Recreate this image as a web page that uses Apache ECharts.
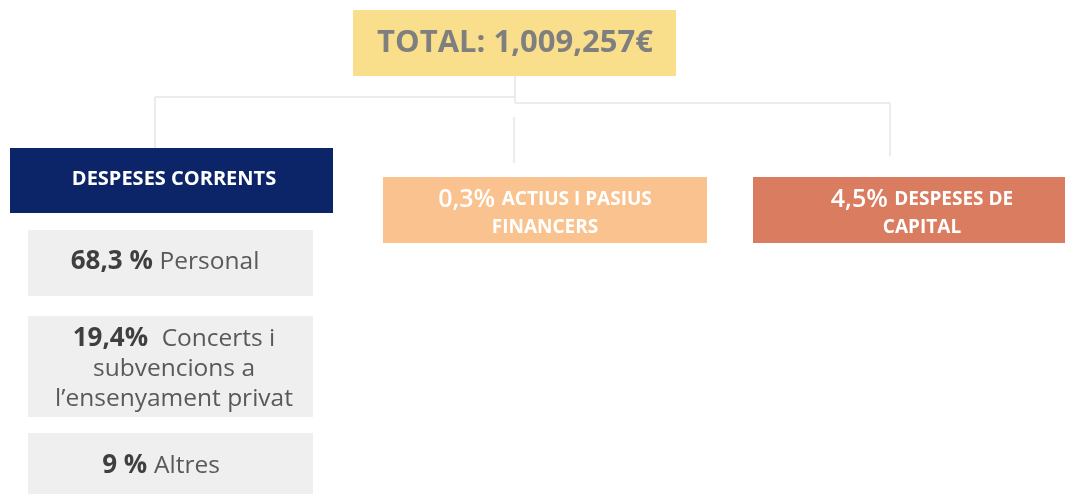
<!DOCTYPE html>
<html><head><meta charset="utf-8">
<script src="https://cdn.jsdelivr.net/npm/echarts@6/dist/echarts.min.js"></script>
<style>html,body{margin:0;padding:0;background:#fff}#c{width:1065px;height:496px}</style>
</head><body><div id="c"></div>
<script>
// ---- content ----
const totalLabel = 'TOTAL: 1,009,257€';
const groupNames = ['DESPESES CORRENTS', 'ACTIUS I PASIUS\nFINANCERS', 'DESPESES DE\nCAPITAL'];
const groupShares = ['', '0,3%', '4,5%'];
const itemShares = ['68,3 %', '19,4%', '9 %'];
const itemNames = ['Personal', 'Concerts i\nsubvencions a\nl\u2019ensenyament privat', 'Altres'];

// ---- layout (pixel space of the hidden axes) ----
const FONT = 'Open Sans';
const totalBox = {x: 353, y: 10, w: 323, h: 66, tx: 515, ty: 43, fill: '#F9DF8C'};
const groupBoxes = [
  {x: 10, y: 148, w: 323, h: 65, tx: 174, ty: 179, fill: '#0C2468'},
  {x: 383, y: 177, w: 324, h: 66, tx: 545, ty: 214, fill: '#F9C28E'},
  {x: 753, y: 177, w: 312, h: 66, tx: 922, ty: 214, fill: '#D97C5F'}
];
const itemBoxes = [
  {x: 28, y: 230, w: 285, h: 66, tx: 165, ty: 262, fill: '#EFEFEF'},
  {x: 28, y: 316, w: 285, h: 101, tx: 174, ty: 369, fill: '#EFEFEF'},
  {x: 28, y: 433, w: 285, h: 61, tx: 161, ty: 466, fill: '#EFEFEF'}
];
const connectors = [
  [[515, 76], [515, 103]],
  [[155, 97], [515, 97]],
  [[155, 97], [155, 148]],
  [[515, 103], [890, 103]],
  [[890, 103], [890, 156]],
  [[514, 117], [514, 163]]
];

function richTextFor(kind, i) {
  if (kind === 'total') return '{t|' + totalLabel + '}';
  if (kind === 'group') {
    const lines = groupNames[i].split('\n');
    const share = groupShares[i];
    return lines.map((l, k) => (k === 0 && share ? '{p|' + share + ' }' : '') + '{h|' + l + '}').join('\n');
  }
  const lines = itemNames[i].split('\n');
  return lines.map((l, k) => (k === 0 ? '{b|' + itemShares[i] + (i === 1 ? '  ' : ' ') + '}' : '') + '{r|' + l + '}').join('\n');
}

const rich = {
  t: {fontFamily: FONT, fontWeight: 'bold', fontSize: 31, fill: '#7F7F7F'},
  p: {fontFamily: FONT, fontWeight: 600, fontSize: 25, fill: '#FFFFFF', lineHeight: 28},
  h: {fontFamily: FONT, fontWeight: 'bold', fontSize: 19, fill: '#FFFFFF', lineHeight: 28},
  b: {fontFamily: FONT, fontWeight: 'bold', fontSize: 26, fill: '#3F3F3F', lineHeight: 30},
  r: {fontFamily: FONT, fontWeight: 'normal', fontSize: 24.5, fill: '#595959', lineHeight: 30}
};
const navyRich = {h: {fontFamily: FONT, fontWeight: 'bold', fontSize: 20, fill: '#FFFFFF'}};

const nodes = [{kind: 'total', i: 0, box: totalBox}]
  .concat(groupBoxes.map((b, i) => ({kind: 'group', i, box: b})))
  .concat(itemBoxes.map((b, i) => ({kind: 'item', i, box: b})));

const chart = echarts.init(document.getElementById('c'), null, {renderer: 'canvas'});
chart.setOption({
  backgroundColor: '#ffffff',
  animation: false,
  grid: {left: 0, right: 0, top: 0, bottom: 0},
  xAxis: {type: 'value', min: 0, max: 1065, show: false},
  yAxis: {type: 'value', min: 0, max: 496, inverse: true, show: false},
  series: [
    {
      type: 'custom',
      coordinateSystem: 'cartesian2d',
      silent: true,
      data: connectors.map((c, i) => [i]),
      renderItem: function (params, api) {
        const seg = connectors[api.value(0)];
        return {
          type: 'polyline',
          shape: {points: seg.map(p => api.coord(p))},
          style: {stroke: '#E6E6E6', lineWidth: 1.5, fill: null}
        };
      }
    },
    {
      type: 'custom',
      coordinateSystem: 'cartesian2d',
      silent: true,
      data: nodes.map((n, i) => [i]),
      renderItem: function (params, api) {
        const n = nodes[api.value(0)];
        const b = n.box;
        const p0 = api.coord([b.x, b.y]);
        const p1 = api.coord([b.x + b.w, b.y + b.h]);
        const c = api.coord([b.tx, b.ty]);
        const r = (n.kind === 'group' && n.i === 0) ? navyRich : rich;
        return {
          type: 'group',
          children: [
            {type: 'rect', shape: {x: p0[0], y: p0[1], width: p1[0] - p0[0], height: p1[1] - p0[1]}, style: {fill: b.fill}},
            {type: 'text', style: {text: richTextFor(n.kind, n.i), x: c[0], y: c[1], align: 'center', verticalAlign: 'middle', rich: r}}
          ]
        };
      }
    }
  ]
});
</script>
</body></html>
